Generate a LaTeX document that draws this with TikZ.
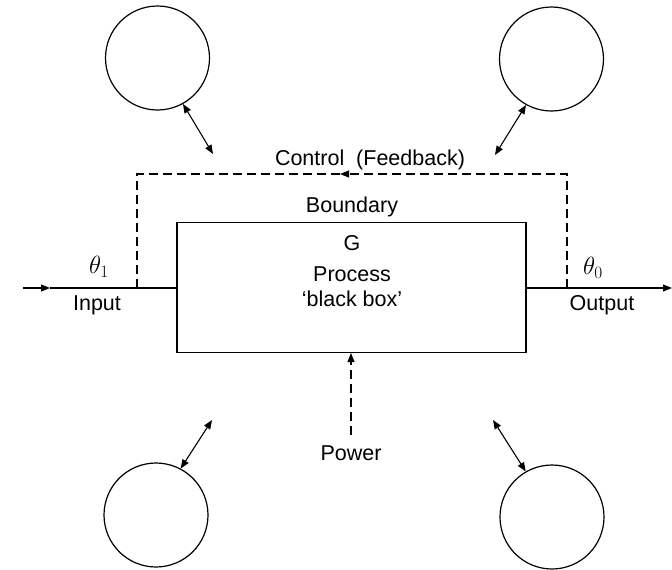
\documentclass[tikz,border=0pt]{standalone}
\usepackage{fontspec}
\setmainfont{Liberation Sans}
\usetikzlibrary{arrows.meta}

\begin{document}
\begin{tikzpicture}[x=1pt,y=-1pt,line width=1.1pt,
    lbl/.style={inner sep=0pt,font=\fontsize{21.5}{25}\selectfont},
    sym/.style={inner sep=0pt,font=\fontsize{24}{28}\selectfont},
    env/.style={draw,circle,minimum size=104pt,line width=1.2pt,inner sep=0pt},
    tip/.style={-{Triangle[length=9pt,width=7pt]}},
    twotip/.style={{Triangle[length=9pt,width=7pt]}-{Triangle[length=9pt,width=7pt]}},
    fb/.style={dash pattern=on 9pt off 5pt}]
\useasboundingbox (0,0) rectangle (672,570);
% process box
\node[draw,minimum width=349pt,minimum height=130pt,inner sep=0pt] (box) at (351.5,287.5) {};
\node[lbl] (g) at (352,243) {G};
\node[lbl] (proc) at (352,274) {Process};
\node[lbl] (bb) at (352,299) {`black box'};
\node[lbl] (bnd) at (352,207) {Boundary};
% input and output
\coordinate (inL) at (23,288);
\coordinate (inM) at (50,288);
\coordinate (outR) at (672,288);
\draw[tip] (inL) -- (inM);
\draw (inM) -- (box.west |- inM);
\draw[tip] (box.east |- outR) -- (outR);
\node[sym] (th1) at (99,267) {$\theta_1$};
\node[lbl] (inp) at (97,305) {Input};
\node[sym] (th0) at (593,268) {$\theta_0$};
\node[lbl] (outp) at (602,305) {Output};
% feedback
\coordinate (fbR) at (567,288);
\coordinate (fbM) at (340,174);
\coordinate (fbL) at (137,288);
\draw[fb,tip] (fbR) |- (fbM);
\draw[fb] (fbM) -| (fbL);
\node[lbl] (ctl) at (370,160) {Control\ \ (Feedback)};
% power
\coordinate (pw) at (351,435);
\draw[fb,tip] (pw) -- (box.south -| pw);
\node[lbl] (pwr) at (351,453) {Power};
% environment
\node[env] (c1) at (157.5,58) {};
\node[env] (c2) at (551.5,59) {};
\node[env] (c3) at (156,515) {};
\node[env] (c4) at (552,517) {};
\coordinate (a1) at (213,154);
\coordinate (a2) at (495,155);
\coordinate (a3) at (212,420);
\coordinate (a4) at (493,420);
\draw[twotip] (c1.-61) -- (a1);
\draw[twotip] (c2.-119) -- (a2);
\draw[twotip] (c3.62) -- (a3);
\draw[twotip] (c4.120) -- (a4);
\end{tikzpicture}
\end{document}
